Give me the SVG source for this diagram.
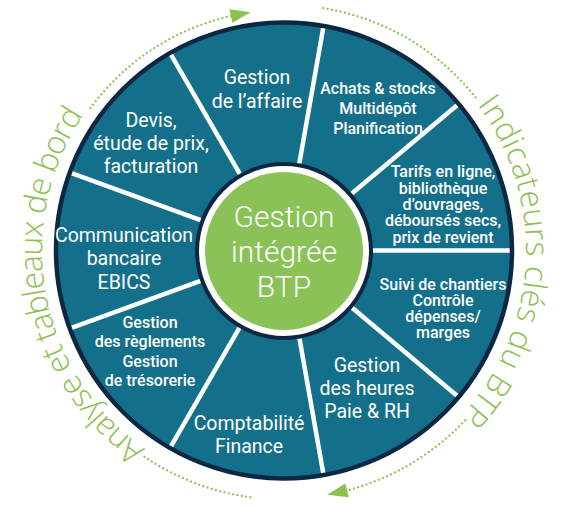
<svg xmlns="http://www.w3.org/2000/svg" width="570" height="518" viewBox="0 0 570 518">
<style>
.seg{fill:#ffffff;font-family:Roboto,"Liberation Sans",sans-serif;text-anchor:middle}
.big{font-size:19.5px;font-weight:400}
.small{font-size:16px;font-weight:500}
.core{font-size:30px;font-weight:300;fill:#ffffff;font-family:Roboto,"Liberation Sans",sans-serif;text-anchor:middle}
.arc{fill:#8cc152;font-family:"Open Sans","Liberation Sans",sans-serif;font-weight:300;font-size:32px}
.spoke{stroke:#ffffff;stroke-width:4.5}
.dots{fill:none;stroke:#8cc152;stroke-width:2;stroke-dasharray:2 2.4}
</style>
<defs>
<path id="leftArc" d="M145.2,448.7 A242,242 0 0 1 83.4,115.2"/>
<path id="rightArc" d="M477.3,104.9 A242,242 0 0 1 461,415.5"/>
</defs>
<rect width="570" height="518" fill="#ffffff"/>
<circle cx="284" cy="250.5" r="228" fill="#14708a"/>
<g id="dividers" transform="translate(284 250.5)">
<line class="spoke" x1="80" y1="0" x2="229" y2="0"/>
<line class="spoke" x1="80" y1="0" x2="229" y2="0" transform="rotate(40)"/>
<line class="spoke" x1="80" y1="0" x2="229" y2="0" transform="rotate(80)"/>
<line class="spoke" x1="80" y1="0" x2="229" y2="0" transform="rotate(120)"/>
<line class="spoke" x1="80" y1="0" x2="229" y2="0" transform="rotate(160)"/>
<line class="spoke" x1="80" y1="0" x2="229" y2="0" transform="rotate(200)"/>
<line class="spoke" x1="80" y1="0" x2="229" y2="0" transform="rotate(240)"/>
<line class="spoke" x1="80" y1="0" x2="229" y2="0" transform="rotate(280)"/>
<line class="spoke" x1="80" y1="0" x2="229" y2="0" transform="rotate(320)"/>
</g>
<circle cx="284" cy="250.5" r="228" fill="none" stroke="#0b2742" stroke-width="4.5"/>
<g id="center">
<circle cx="284" cy="251" r="87" fill="#ffffff" stroke="#0b2742" stroke-width="4"/>
<circle cx="284" cy="251" r="79" fill="#8bc257"/>
<text class="core" x="284" y="227">Gestion</text>
<text class="core" x="284" y="262">intégrée</text>
<text class="core" x="284" y="297">BTP</text>
</g>
<g id="affaire" class="seg big">
<text x="257" y="84">Gestion</text>
<text x="257" y="108">de l’affaire</text>
</g>
<g id="achats" class="seg small">
<text x="378" y="94">Achats &amp; stocks</text>
<text x="378" y="114">Multidépôt</text>
<text x="378" y="134">Planification</text>
</g>
<g id="tarifs" class="seg small">
<text x="443" y="177">Tarifs en ligne,</text>
<text x="443" y="193.5">bibliothèque</text>
<text x="443" y="210">d’ouvrages,</text>
<text x="443" y="226">déboursés secs,</text>
<text x="443" y="242.5">prix de revient</text>
</g>
<g id="suivi" class="seg small">
<text x="443" y="290">Suivi de chantiers</text>
<text x="443" y="306">Contrôle</text>
<text x="443" y="322">dépenses/</text>
<text x="443" y="338">marges</text>
</g>
<g id="heures" class="seg big">
<text x="367" y="372">Gestion</text>
<text x="367" y="395">des heures</text>
<text x="367" y="418">Paie &amp; RH</text>
</g>
<g id="comptabilite" class="seg big">
<text x="249" y="430">Comptabilité</text>
<text x="249" y="453">Finance</text>
</g>
<g id="reglements" class="seg small">
<text x="150" y="328">Gestion</text>
<text x="150" y="347">des règlements</text>
<text x="150" y="367">Gestion</text>
<text x="150" y="386">de trésorerie</text>
</g>
<g id="communication" class="seg big">
<text x="124" y="242">Communication</text>
<text x="124" y="265">bancaire</text>
<text x="124" y="289">EBICS</text>
</g>
<g id="devis" class="seg big">
<text x="151" y="127">Devis,</text>
<text x="151" y="150">étude de prix,</text>
<text x="151" y="173">facturation</text>
</g>
<g id="analyse">
<text class="arc"><textPath href="#leftArc" textLength="376" lengthAdjust="spacing">Analyse et tableaux de bord</textPath></text>
</g>
<g id="indicateurs">
<text class="arc"><textPath href="#rightArc" textLength="338" lengthAdjust="spacing">Indicateurs clés du BTP</textPath></text>
</g>
<g id="connectors">
<path class="dots" d="M89.8,108.9 A240,240 0 0 1 232.1,15.7"/>
<polygon points="250.6,12.3 229.2,9.2 232.4,22.8" fill="#8cc152"/>
<path class="dots" d="M322.3,8 A245,245 0 0 1 477.8,100.2"/>
<path class="dots" d="M465.8,419.5 A248.5,248.5 0 0 1 346.2,490.6"/>
<polygon points="327.2,494.7 345.3,483.6 348.9,497.2" fill="#8cc152"/>
<path class="dots" d="M251.4,497.4 A249.5,249.5 0 0 1 142.7,455.6"/>
</g>
</svg>
